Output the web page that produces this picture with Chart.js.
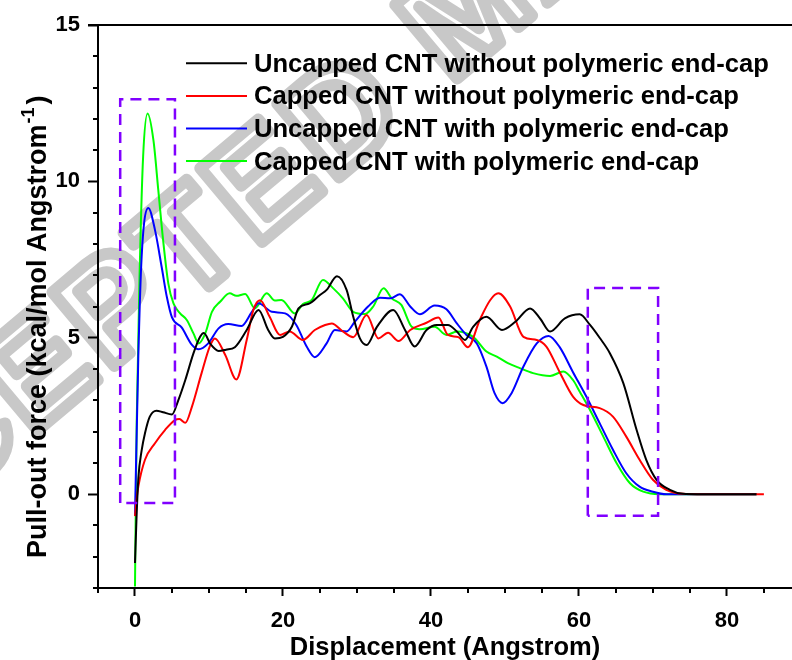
<!doctype html>
<html>
<head>
<meta charset="utf-8">
<title>Pull-out force</title>
<script src="https://cdn.jsdelivr.net/npm/chart.js"></script>
<style>
  body { margin: 0; background: #fff; }
</style>
</head>
<body>
<canvas id="grafico" width="792" height="660"></canvas>
<script>
// valores
var seriesNames = [
    'Uncapped CNT without polymeric end-cap',
    'Capped CNT without polymeric end-cap',
    'Uncapped CNT with polymeric end-cap',
    'Capped CNT with polymeric end-cap'
];
var seriesColors = ['#000000', '#ff0000', '#0000ff', '#00ff00'];

var xUncappedNoCap = [0, 0.2, 0.45, 0.9, 1.35, 2.0, 2.9, 3.8, 5.0, 5.85, 6.8, 7.9, 8.8, 9.3, 10.2, 11.3, 12.3, 13.5, 15.1, 16.7, 18.0, 18.9, 20.0, 21.2, 22.1, 23.6, 25.0, 25.9, 27.3, 28.6, 29.5, 30.4, 31.3, 32.7, 34.9, 36.5, 37.8, 39.4, 40.8, 42.3, 43.5, 44.6, 45.7, 47.5, 49.6, 51.4, 53.4, 54.8, 56.1, 58.1, 60.1, 61.5, 62.8, 64.2, 66.0, 67.8, 69.1, 70.5, 72.3, 74.1, 76, 80, 84];
var yUncappedNoCap = [-2.2, -0.8, 0.5, 1.4, 1.95, 2.48, 2.67, 2.62, 2.55, 3.0, 3.65, 4.5, 5.03, 5.15, 4.8, 4.58, 4.62, 4.7, 5.25, 5.89, 5.25, 4.98, 5.03, 5.35, 5.94, 6.1, 6.37, 6.53, 6.97, 6.53, 5.67, 4.98, 4.77, 5.35, 5.89, 5.25, 4.72, 5.25, 5.41, 5.41, 5.2, 4.93, 5.35, 5.67, 5.25, 5.51, 5.94, 5.6, 5.2, 5.62, 5.75, 5.41, 5.0, 4.5, 3.55, 2.05, 1.1, 0.46, 0.14, 0.01, 0, 0, 0];

var xCappedNoCap = [0, 0.2, 0.45, 1.35, 2.7, 4.05, 5.4, 6.0, 6.8, 7.7, 9.0, 10.1, 10.8, 12.2, 13.7, 15.1, 16.0, 16.9, 18.2, 19.6, 20.9, 22.7, 24.3, 25.7, 26.6, 28.1, 29.5, 31.3, 32.9, 34.2, 35.6, 37.2, 39.4, 41.0, 42.3, 43.7, 45.0, 46.6, 48.0, 49.1, 50.7, 52.5, 54.3, 55.6, 57.4, 59.2, 60.6, 62.8, 64.6, 66.4, 68.2, 70.0, 71.8, 74.1, 76, 80, 85];
var yCappedNoCap = [-0.7, -0.2, 0.24, 1.1, 1.63, 2.05, 2.37, 2.4, 2.28, 2.8, 3.87, 4.72, 4.98, 4.45, 3.67, 4.93, 5.89, 6.2, 5.67, 5.09, 5.2, 4.93, 5.25, 5.41, 5.46, 5.2, 5.02, 5.73, 4.98, 5.16, 4.9, 5.25, 5.48, 5.65, 5.09, 5.02, 4.7, 5.57, 6.2, 6.42, 6.0, 5.03, 4.93, 4.72, 3.9, 3.12, 2.85, 2.75, 2.48, 1.84, 1.1, 0.46, 0.14, 0.01, 0, 0, 0];

var xUncappedCap = [0, 0.45, 0.9, 1.8, 2.7, 3.6, 4.3, 5.0, 6.3, 7.7, 8.6, 9.9, 11.3, 12.6, 14.4, 15.8, 16.7, 18.5, 20.3, 21.8, 23.2, 24.3, 25.9, 27.0, 28.6, 29.7, 31.5, 33.1, 34.5, 35.8, 37.2, 38.5, 40.5, 42.1, 43.5, 44.8, 46.2, 47.5, 48.6, 49.7, 50.9, 52.5, 54.3, 55.9, 57.4, 59.2, 61.0, 62.8, 64.6, 66.4, 68.2, 70.0, 71.8, 76, 80, 84];
var yUncappedCap = [-0.7, 4.4, 7.6, 9.15, 8.45, 7.27, 6.31, 5.65, 5.33, 4.77, 4.63, 4.82, 5.3, 5.44, 5.38, 5.83, 6.1, 5.83, 5.78, 5.41, 4.72, 4.38, 4.82, 5.25, 5.2, 5.51, 6.0, 6.28, 6.26, 6.39, 6.0, 5.75, 6.03, 5.91, 5.46, 5.09, 4.82, 4.08, 3.23, 2.91, 3.23, 4.08, 4.82, 5.06, 4.7, 3.9, 3.12, 2.27, 1.42, 0.67, 0.24, 0.08, 0, 0, 0, 0];

var xCappedCap = [0, 0.23, 0.68, 1.1, 1.7, 2.5, 3.15, 3.8, 4.5, 5.2, 6.1, 7.0, 7.9, 8.6, 9.5, 10.4, 11.5, 12.8, 13.7, 14.9, 16.2, 17.8, 18.9, 19.8, 21.6, 22.7, 23.9, 25.4, 26.8, 28.1, 29.5, 31.1, 32.2, 33.6, 34.7, 36.0, 37.4, 38.5, 40.5, 42.1, 43.5, 45.7, 47.5, 48.9, 50.4, 52.0, 53.8, 56.1, 57.9, 59.2, 60.1, 61.5, 63.3, 65.1, 66.9, 68.7, 70.9, 76, 80, 84];
var yCappedCap = [-2.95, 2.3, 7.6, 10.8, 12.17, 11.3, 9.72, 8.12, 6.74, 6.1, 5.78, 5.57, 5.14, 4.82, 5.14, 5.83, 6.15, 6.42, 6.34, 6.4, 5.94, 6.42, 6.19, 6.21, 5.78, 6.08, 6.21, 6.85, 6.58, 6.26, 5.83, 5.76, 6.0, 6.58, 6.26, 6.05, 5.35, 5.27, 5.35, 5.09, 5.2, 5.03, 4.56, 4.4, 4.19, 4.03, 3.87, 3.78, 3.92, 3.65, 3.28, 2.69, 1.84, 0.99, 0.35, 0.08, 0, 0, 0, 0];

// caixas tracejadas (coordenadas de dados)
var boxXRanges = [[-2.0, 5.4], [61.2, 70.7]];
var boxYRanges = [[-0.28, 12.63], [-0.69, 6.59]];

var xTicks = [-5, 0, 5, 10, 15, 20, 25, 30, 35, 40, 45, 50, 55, 60, 65, 70, 75, 80, 85];
var xLabels = [0, 20, 40, 60, 80];
var yTicks = [-3, -2, -1, 0, 1, 2, 3, 4, 5, 6, 7, 8, 9, 10, 11, 12, 13, 14, 15];
var yLabels = [0, 5, 10, 15];

var FONTE = '"Liberation Sans", Arial, sans-serif';
Chart.defaults.font.family = FONTE;

function pontos(xs, ys) {
    return xs.map(function (x, i) { return { x: x, y: ys[i] }; });
}
function caixa(xr, yr) {
    return [
        { x: xr[0], y: yr[0] }, { x: xr[0], y: yr[1] },
        { x: xr[1], y: yr[1] }, { x: xr[1], y: yr[0] }, { x: xr[0], y: yr[0] }
    ];
}

var seriesData = [
    pontos(xUncappedNoCap, yUncappedNoCap),
    pontos(xCappedNoCap, yCappedNoCap),
    pontos(xUncappedCap, yUncappedCap),
    pontos(xCappedCap, yCappedCap)
];

var datasets = [];
boxXRanges.forEach(function (xr, i) {
    datasets.push({
        label: 'box' + i,
        data: caixa(xr, boxYRanges[i]),
        borderColor: '#8000ff',
        borderWidth: 2.5,
        borderDash: [11, 7],
        tension: 0,
        pointRadius: 0,
        legenda: false
    });
});
seriesNames.forEach(function (nome, i) {
    datasets.push({
        label: nome,
        data: seriesData[i],
        borderColor: seriesColors[i],
        borderWidth: 2,
        cubicInterpolationMode: 'monotone',
        pointRadius: 0,
        legenda: true
    });
});

var extras = {
    id: 'extras',
    beforeDraw: function (chart) {
        // marca d'agua
        var ctx = chart.ctx;
        ctx.save();
        ctx.translate(-218, 645);
        ctx.rotate(-40 * Math.PI / 180);
        ctx.font = 'bold 140px ' + FONTE;
        ctx.letterSpacing = '7px';
        ctx.strokeStyle = '#c8c8c8';
        ctx.lineWidth = 12;
        ctx.lineJoin = 'round';
        ctx.strokeText('ACCEPTED MANUSCRIPT', 0, 0);
        ctx.restore();
    },
    afterDraw: function (chart) {
        var ctx = chart.ctx;
        var area = chart.chartArea;
        var sx = chart.scales.x, sy = chart.scales.y;
        ctx.save();
        ctx.strokeStyle = '#000';
        ctx.lineWidth = 2;
        // linha de cima
        ctx.beginPath();
        ctx.moveTo(area.left - 10, area.top);
        ctx.lineTo(area.right, area.top);
        ctx.stroke();
        // ticks menores
        ctx.beginPath();
        xTicks.forEach(function (v) {
            if (xLabels.indexOf(v) >= 0) return;
            var px = Math.round(sx.getPixelForValue(v));
            ctx.moveTo(px, area.bottom);
            ctx.lineTo(px, area.bottom + 5);
        });
        yTicks.forEach(function (v) {
            if (yLabels.indexOf(v) >= 0) return;
            var py = Math.round(sy.getPixelForValue(v));
            ctx.moveTo(area.left, py);
            ctx.lineTo(area.left - 5, py);
        });
        ctx.stroke();

        // titulo do eixo y com expoente
        ctx.fillStyle = '#000';
        ctx.translate(46, 558);
        ctx.rotate(-Math.PI / 2);
        ctx.textBaseline = 'alphabetic';
        ctx.textAlign = 'left';
        ctx.font = 'bold 27px ' + FONTE;
        var principal = 'Pull-out force (kcal/mol Angstrom';
        ctx.fillText(principal, 0, 0);
        var w = ctx.measureText(principal).width;
        ctx.font = 'bold 18px ' + FONTE;
        ctx.fillText('-1', w + 1, -12);
        var w2 = ctx.measureText('-1').width;
        ctx.font = 'bold 27px ' + FONTE;
        ctx.fillText(')', w + w2 + 4, 0);
        ctx.restore();

        // legenda
        ctx.save();
        ctx.font = 'bold 25.6px ' + FONTE;
        ctx.fillStyle = '#000';
        ctx.textAlign = 'left';
        ctx.textBaseline = 'alphabetic';
        var linha = 0;
        chart.data.datasets.forEach(function (ds) {
            if (!ds.legenda) return;
            var y = area.top + 38.3 + linha * 32.6;
            ctx.strokeStyle = ds.borderColor;
            ctx.lineWidth = 2;
            ctx.beginPath();
            ctx.moveTo(area.left + 88, y);
            ctx.lineTo(area.left + 149, y);
            ctx.stroke();
            ctx.fillText(ds.label, area.left + 156, y + 8.5);
            linha++;
        });
        ctx.restore();
    }
};

var grafico = new Chart(document.getElementById('grafico').getContext('2d'), {
    type: 'line',
    data: { datasets: datasets },
    options: {
        responsive: false,
        animation: false,
        layout: { padding: { top: 25, left: 0, right: 0, bottom: 0 } },
        plugins: {
            legend: { display: false },
            tooltip: { enabled: false }
        },
        scales: {
            x: {
                type: 'linear',
                min: -5,
                max: 88.8,
                afterFit: function (s) { s.height = 72; },
                afterBuildTicks: function (s) { s.ticks = xTicks.map(function (v) { return { value: v }; }); },
                ticks: {
                    autoSkip: false,
                    maxRotation: 0,
                    padding: 12,
                    color: '#000',
                    font: { size: 22, weight: 'bold' },
                    callback: function (v) { return xLabels.indexOf(v) >= 0 ? v : ''; }
                },
                grid: {
                    drawOnChartArea: false,
                    tickLength: 8,
                    tickWidth: 2,
                    tickColor: function (c) { return c.tick && xLabels.indexOf(c.tick.value) >= 0 ? '#000' : 'rgba(0,0,0,0)'; }
                },
                border: { color: '#000', width: 2 },
                title: {
                    display: true,
                    text: 'Displacement (Angstrom)',
                    color: '#000',
                    font: { size: 25.5, weight: 'bold' },
                    padding: { top: 0, bottom: -3 }
                }
            },
            y: {
                min: -3,
                max: 15,
                afterFit: function (s) { s.width = 98; },
                afterBuildTicks: function (s) { s.ticks = yTicks.map(function (v) { return { value: v }; }); },
                ticks: {
                    autoSkip: false,
                    padding: 8,
                    color: '#000',
                    font: { size: 22, weight: 'bold' },
                    callback: function (v) { return yLabels.indexOf(v) >= 0 ? v : ''; }
                },
                grid: {
                    drawOnChartArea: false,
                    tickLength: 10,
                    tickWidth: 2,
                    tickColor: function (c) { return c.tick && yLabels.indexOf(c.tick.value) >= 0 ? '#000' : 'rgba(0,0,0,0)'; }
                },
                border: { color: '#000', width: 2 }
            }
        }
    },
    plugins: [extras]
});
</script>
</body>
</html>
